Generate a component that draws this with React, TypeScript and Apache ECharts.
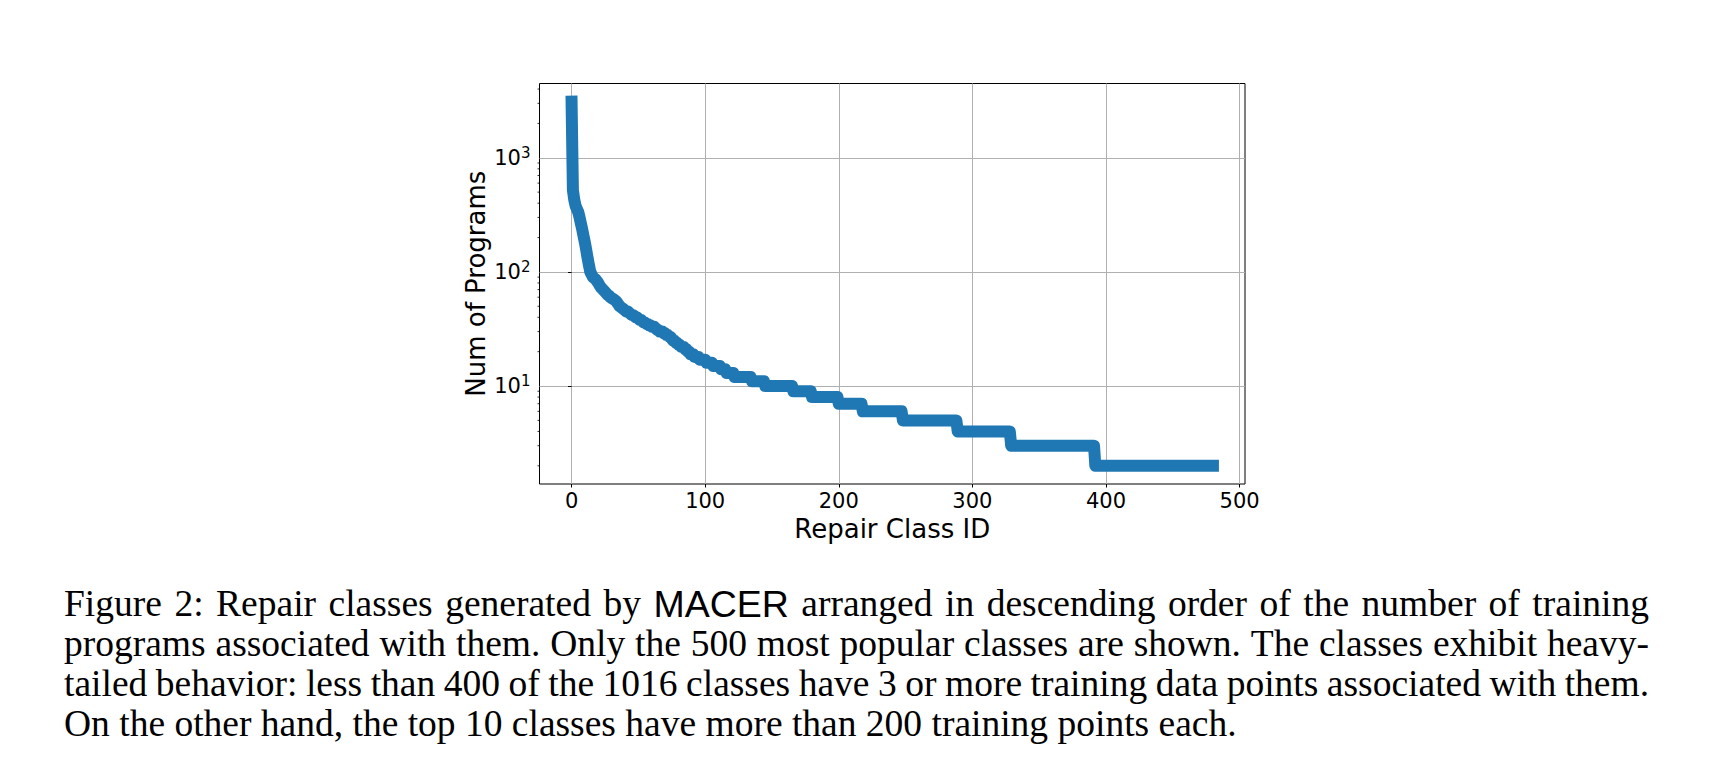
import React, { useEffect, useRef } from "react";
import * as echarts from "echarts";

// ---- data ----
// number of programs for the most popular repair classes, class id 0..115
const headCounts = [
  3100, 520, 430, 380, 355, 335, 300, 265, 235, 205,
  180, 155, 132, 115, 100, 95, 90, 88, 86, 83,
  80, 76, 73, 71, 69, 67, 65, 63, 62, 60,
  59, 58, 57, 56, 54, 52, 50, 49, 48, 47,
  46, 45, 45, 44, 43, 42, 42, 41, 40, 40,
  39, 38, 38, 37, 36, 36, 35, 35, 34, 34,
  33, 33, 33, 32, 31, 31, 30, 30, 30, 29,
  29, 28, 28, 27, 27, 26, 25, 25, 24, 24,
  23, 23, 22, 22, 22, 21, 21, 20, 20, 19,
  19, 19, 18, 18, 18, 18, 17, 17, 17, 17,
  17, 16, 16, 16, 16, 16, 15, 15, 15, 15,
  15, 15, 14, 14, 14, 14,
];
// remaining classes (id 116..480): plateau levels and how many classes share each level
const tailLevels = [13, 12, 11, 10, 9, 8, 7, 6, 5, 4, 3, 2];
const tailRunLengths = [6, 13, 10, 21, 14, 20, 18, 30, 41, 40, 63, 89];

const xTickValues = [0, 100, 200, 300, 400, 500];
const yTickValues = [10, 100, 1000];
const yMinorTickValues = [
  2, 3, 4, 5, 6, 7, 8, 9,
  20, 30, 40, 50, 60, 70, 80, 90,
  200, 300, 400, 500, 600, 700, 800, 900,
  2000, 3000, 4000,
];
const xAxisName = "Repair Class ID";
const yAxisName = "Num of Programs";
const captionLines = [
  "Figure 2: Repair classes generated by MACER arranged in descending order of the number of training",
  "programs associated with them. Only the 500 most popular classes are shown. The classes exhibit heavy-",
  "tailed behavior: less than 400 of the 1016 classes have 3 or more training data points associated with them.",
  "On the other hand, the top 10 classes have more than 200 training points each.",
];
const sansWords = ["MACER"];

function buildCounts(): number[] {
  const out = [...headCounts];
  tailLevels.forEach((lvl, k) => {
    for (let i = 0; i < tailRunLengths[k]; i++) out.push(lvl);
  });
  return out;
}

export default function App() {
  const ref = useRef<HTMLDivElement>(null);

  useEffect(() => {
    const el = ref.current!;
    const chart = echarts.init(el, null, { renderer: "svg", width: 1715, height: 778 });

    const counts = buildCounts();
    const seriesData = counts.map((v, i) => [i, v]);
    const xLast = counts.length - 1;
    const xMin = -0.05 * xLast;
    const xMax = 1.05 * xLast;
    const lmin = Math.log10(Math.min(...counts));
    const lmax = Math.log10(Math.max(...counts));
    const span = lmax - lmin;
    const yMin = Math.pow(10, lmin - 0.05 * span);
    const yMax = Math.pow(10, lmax + 0.05 * span);

    // ---- caption (justified, LaTeX-like) ----
    const SERIF = "Liberation Serif";
    const SANS = "Liberation Sans";
    const ctx = document.createElement("canvas").getContext("2d")!;
    const tw = (t: string, fam: string, size: number) => {
      ctx.font = `${size}px "${fam}"`;
      return ctx.measureText(t).width;
    };
    const famOf = (w: string) => (sansWords.includes(w) ? SANS : SERIF);
    const natural = (words: string[], size: number) =>
      words.reduce((s, w) => s + tw(w, famOf(w), size), 0) +
      (words.length - 1) * tw(" ", SERIF, size);
    const lastWords = captionLines[captionLines.length - 1].split(" ");
    const fs = Math.min(37.5, (33 * 1179) / natural(lastWords, 33));
    const capLeft = 64;
    const capRight = 1649;
    const baselines = [616.5, 656.5, 696, 736];
    const graphics: any[] = [];
    captionLines.forEach((line, li) => {
      const words = line.split(" ");
      const ws = words.map((w) => tw(w, famOf(w), fs));
      const total = ws.reduce((a, b) => a + b, 0);
      const justify = li < captionLines.length - 1;
      const gap = justify ? (capRight - capLeft - total) / (words.length - 1) : tw(" ", SERIF, fs);
      let x = capLeft;
      words.forEach((w, i) => {
        const fam = famOf(w);
        const central = fam === SANS ? 0.3465 : 0.3375;
        graphics.push({
          type: "text",
          x,
          y: baselines[li] - central * fs,
          silent: true,
          style: {
            text: w,
            fontFamily: fam,
            fontSize: fs,
            fill: "#000",
            align: "left",
            verticalAlign: "middle",
          },
        });
        x += ws[i] + gap;
      });
    });

    const tickFont = "DejaVu Sans";

    const option: any = {
      animation: false,
      backgroundColor: "#ffffff",
      grid: {
        left: 539.5,
        top: 83.5,
        width: 705.5,
        height: 400.5,
        show: true,
        borderColor: "#000",
        borderWidth: 1,
        backgroundColor: "transparent",
        containLabel: false,
        outerBoundsMode: "none",
      },
      xAxis: {
        type: "value",
        min: xMin,
        max: xMax,
        splitNumber: 5,
        axisLine: { show: false },
        axisTick: {
          show: true,
          inside: false,
          length: 3.5,
          lineStyle: { color: "#000", width: 1 },
          customValues: xTickValues,
        },
        axisLabel: {
          margin: 6,
          fontFamily: tickFont,
          fontSize: 21,
          color: "#000",
          customValues: xTickValues,
          formatter: (v: number) =>
            Math.abs(v - Math.round(v / 100) * 100) < 1e-6 ? String(Math.round(v)) : "",
        },
        splitLine: { show: true, lineStyle: { color: "#b0b0b0", width: 1 } },
        name: xAxisName,
        nameLocation: "middle",
        nameGap: 30,
        nameTextStyle: { fontFamily: tickFont, fontSize: 26, color: "#000" },
      },
      yAxis: {
        type: "log",
        logBase: 10,
        min: yMin,
        max: yMax,
        axisLine: { show: false },
        axisTick: {
          show: true,
          inside: false,
          length: 3.5,
          lineStyle: { color: "#000", width: 1 },
          customValues: yTickValues,
        },
        minorTick: { show: false },
        axisLabel: {
          margin: 9,
          color: "#000",
          customValues: yTickValues,
          formatter: (v: number) => {
            const e = Math.log10(v);
            const r = Math.round(e);
            if (Math.abs(e - r) > 1e-6) return "";
            return `{b|10}{s|${r}}`;
          },
          rich: {
            b: { fontFamily: tickFont, fontSize: 21, lineHeight: 25, color: "#000" },
            s: { fontFamily: tickFont, fontSize: 15, lineHeight: 12, verticalAlign: "top", color: "#000" },
          },
        },
        splitLine: { show: true, lineStyle: { color: "#b0b0b0", width: 1 } },
        name: yAxisName,
        nameLocation: "middle",
        nameRotate: 90,
        nameGap: 50.5,
        nameTextStyle: { fontFamily: tickFont, fontSize: 26, color: "#000" },
      },
      series: [
        {
          type: "line",
          data: seriesData,
          showSymbol: false,
          symbol: "none",
          smooth: false,
          lineStyle: { color: "#1f77b4", width: 12, cap: "square", join: "round" },
          itemStyle: { color: "#1f77b4" },
          z: 3,
        },
        {
          type: "custom",
          coordinateSystem: "cartesian2d",
          clip: false,
          silent: true,
          z: 5,
          data: yMinorTickValues.map((v) => [xMin, v]),
          renderItem: (params: any, api: any) => {
            const p = api.coord([api.value(0), api.value(1)]);
            return {
              type: "line",
              shape: { x1: p[0] - 2, y1: p[1], x2: p[0], y2: p[1] },
              style: { stroke: "#000", lineWidth: 0.8 },
            };
          },
        },
      ],
      graphic: graphics,
    };

    chart.setOption(option);
    return () => {
      chart.dispose();
    };
  }, []);

  return (
    <div
      ref={ref}
      style={{ position: "fixed", left: 0, top: 0, width: 1715, height: 778, background: "#fff" }}
    />
  );
}
